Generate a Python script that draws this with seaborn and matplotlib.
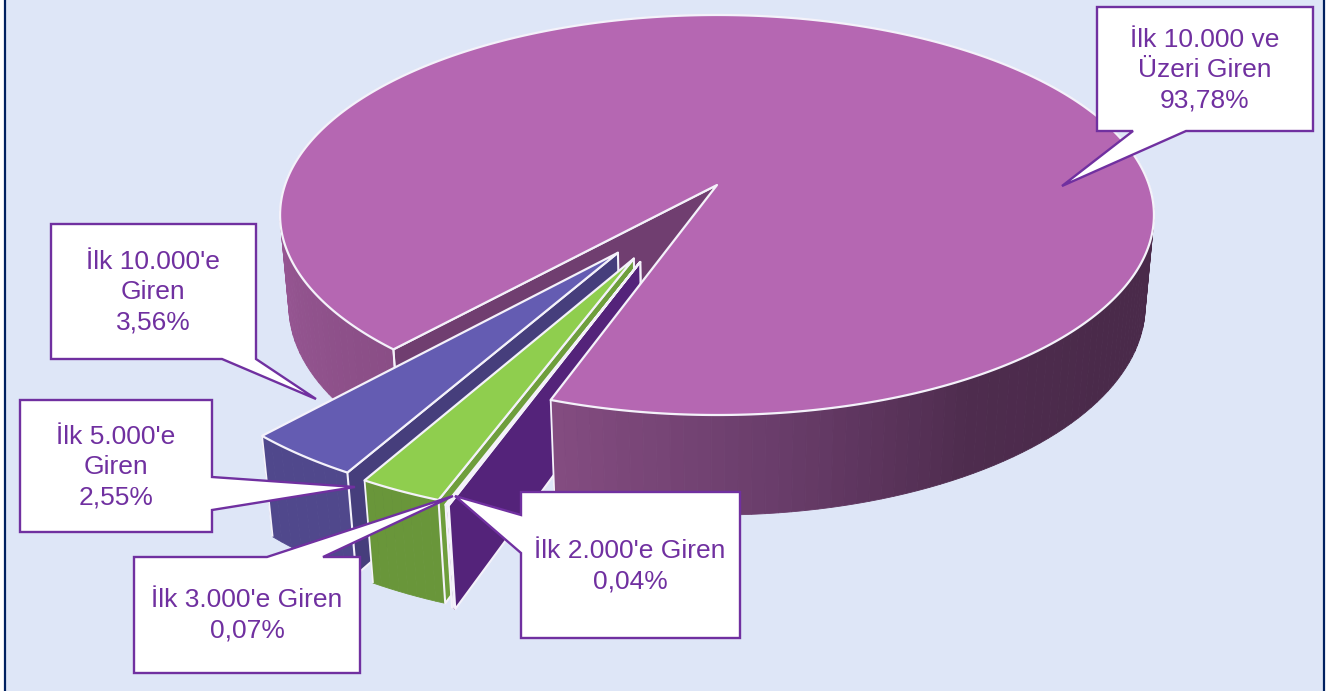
import numpy as np
import matplotlib
matplotlib.use("Agg")
import matplotlib.pyplot as plt
from matplotlib.patches import Polygon, Rectangle
import seaborn as sns

# =========================
# DATA
# =========================
values = [93.78, 3.56, 2.55, 0.07, 0.04]
names = ["İlk 10.000 ve\nÜzeri Giren", "İlk 10.000'e\nGiren", "İlk 5.000'e\nGiren",
         "İlk 3.000'e Giren", "İlk 2.000'e Giren"]
top_colors = ["#B567B2", "#645CB2", "#8FCE4E", "#F0EEF8", "#54237A"]
wall_colors = ["#7F4A7E", "#50488C", "#69963A", "#E6E3F2", "#54237A"]
side_colors = ["#703E70", "#463E7C", "#6E9E3C", "#F0EEF8", "#54237A"]
explode = [0.0, 0.395, 0.40, 0.408, 0.408]
explode_dir = [0.0, 236.5, 242.9, 245.7, 245.7]

# =========================
# PROJECTION (3D look)
# =========================
CX, CY = 717, 185
RX, RY = 432, 195.5
P, Q = 0.15, 0.02
H = 91.6
START = 250.7
EDGE = "#F4F2FA"
TEXT = "#7030A0"
BG = "#DEE6F7"
NAVY = "#002060"


def project(x, y, d=0.0):
    w = 1 + P * y + Q * d
    return CX + RX * x / w, CY + (-RY * y + H * d) / w


def ring(a, ox=0.0, oy=0.0, d=0.0):
    t = np.radians(a)
    return project(ox + np.cos(t), oy + np.sin(t), d)


def outer_wall(ax, a1, a2, ox, oy, palette):
    angles = np.linspace(a1, a2, len(palette) + 1)
    for i, col in enumerate(palette):
        seg = np.linspace(angles[i], angles[i + 1], 4)
        pts = [ring(a, ox, oy) for a in seg] + [ring(a, ox, oy, 1) for a in seg[::-1]]
        ax.add_patch(Polygon(pts, closed=True, fc=col, ec=col, lw=0.6))


def radial_wall(ax, a, ox, oy, col):
    pts = [project(ox, oy), ring(a, ox, oy), ring(a, ox, oy, 1), project(ox, oy, 1)]
    ax.add_patch(Polygon(pts, closed=True, fc=col, ec=EDGE, lw=1.5, joinstyle="round"))


def top_face(ax, a1, a2, ox, oy, col):
    n = max(3, int(abs(a2 - a1) * 2))
    pts = [project(ox, oy)] + [ring(a, ox, oy) for a in np.linspace(a1, a2, n)]
    ax.add_patch(Polygon(pts, closed=True, fc=col, ec=EDGE, lw=1.6, joinstyle="round"))


def wall_edge(ax, a, ox, oy):
    ax.add_patch(Polygon([ring(a, ox, oy), ring(a, ox, oy, 1)], closed=False, fill=False,
                         ec=EDGE, lw=1.3))


def callout(ax, box, pointer, tip, label, center):
    x0, y0, x1, y1 = box
    side, p0, p1 = pointer
    if side == "bottom":
        pts = [(x0, y0), (x1, y0), (x1, y1), (p1, y1), tip, (p0, y1), (x0, y1)]
    elif side == "right":
        pts = [(x0, y0), (x1, y0), (x1, p0), tip, (x1, p1), (x1, y1), (x0, y1)]
    elif side == "top":
        pts = [(x0, y0), (p0, y0), tip, (p1, y0), (x1, y0), (x1, y1), (x0, y1)]
    else:
        pts = [(x0, y0), (x1, y0), (x1, y1), (x0, y1), (x0, p1), tip, (x0, p0)]
    ax.add_patch(Polygon(pts, closed=True, fc="white", ec=TEXT, lw=1.7, joinstyle="miter", zorder=10))
    ax.text(center[0], center[1], label, color=TEXT, fontsize=FONT, ha="center", va="center",
            linespacing=1.32, zorder=11)


sns.set_theme(style="white")
plt.rcParams["font.family"] = ["Liberation Sans", "DejaVu Sans"]
FONT = 19

fig = plt.figure(figsize=(13.26, 6.91), dpi=100, facecolor="white")
ax = fig.add_axes([0, 0, 1, 1])
ax.set_xlim(0, 1326)
ax.set_ylim(691, 0)
ax.axis("off")
ax.add_patch(Rectangle((5, -10), 1319, 720, fc=BG, ec=NAVY, lw=1.6))

# angles from the values
sweeps = [v / sum(values) * 360 for v in values]
starts = [START + sum(sweeps[:i]) for i in range(len(values))]
ends = [s + w for s, w in zip(starts, sweeps)]

# main slice, back parts
main_end = ends[0] - 360
left_pal = sns.blend_palette(["#A75FA3", "#955591", "#8A4E86"], 40)
right_pal = sns.blend_palette(["#834C80", "#6A3D6B", "#4E2C4E", "#4A2A4A", "#4A2A4A", "#4A2A4A"], 80)
outer_wall(ax, 165, main_end, 0, 0, left_pal)
radial_wall(ax, main_end, 0, 0, side_colors[0])
wall_edge(ax, main_end, 0, 0)

# exploded slices, left to right
for i in range(1, len(values)):
    mid = np.radians(explode_dir[i])
    ox, oy = explode[i] * np.cos(mid), explode[i] * np.sin(mid)
    a1, a2 = starts[i] - 360, ends[i] - 360
    outer_wall(ax, a1, a2, ox, oy, sns.blend_palette([wall_colors[i], wall_colors[i]], 8))
    radial_wall(ax, a2, ox, oy, side_colors[i])
    wall_edge(ax, a1, ox, oy)
    top_face(ax, a1, a2, ox, oy, top_colors[i])

# main slice, front wall and top
outer_wall(ax, START, 375, 0, 0, right_pal)
wall_edge(ax, START, 0, 0)
top_face(ax, START, ends[0], 0, 0, top_colors[0])

# labels
percents = [f"{v:.2f}".replace(".", ",") + "%" for v in values]
labels = [n + "\n" + p for n, p in zip(names, percents)]
callout(ax, (1097, 7, 1313, 131), ("bottom", 1133, 1186), (1062, 186), labels[0], (1205, 70))
callout(ax, (51, 224, 256, 359), ("bottom", 222, 256), (316, 399), labels[1], (153, 292))
callout(ax, (20, 400, 212, 532), ("right", 477, 510), (355, 487), labels[2], (116, 467))
callout(ax, (134, 557, 360, 673), ("top", 267, 323), (453, 496), labels[3], (247, 615))
callout(ax, (521, 492, 740, 638), ("left", 515, 553), (455, 496), labels[4], (630, 566))

fig.savefig("out.png", dpi=100, facecolor=fig.get_facecolor())
